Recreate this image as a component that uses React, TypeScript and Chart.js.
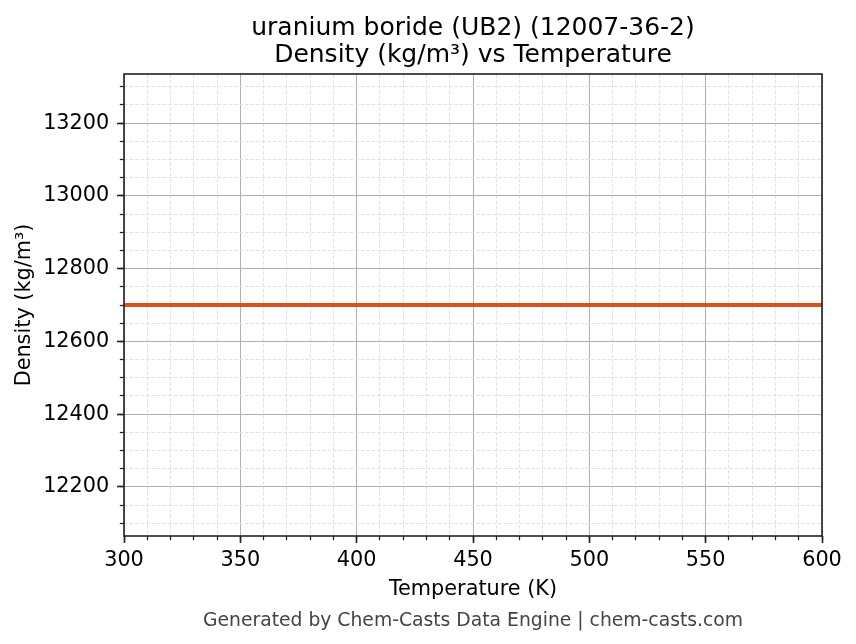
import { useEffect, useRef } from "react";
import { Chart, registerables } from "chart.js";

Chart.register(...registerables);

// data
const temperatures = [300, 350, 400, 450, 500, 550, 600];
const densities = [12700, 12700, 12700, 12700, 12700, 12700, 12700];

const titleLines = ["uranium boride (UB2) (12007-36-2)", "Density (kg/m³) vs Temperature"];
const xLabel = "Temperature (K)";
const yLabel = "Density (kg/m³)";
const footerText = "Generated by Chem-Casts Data Engine | chem-casts.com";

const xLimits = [300, 600];
const yLimits = [12065, 13335];
const xMajorStep = 50;
const xMinorStep = 10;
const yMajorStep = 200;
const yMinorStep = 50;

const FONT = "'DejaVu Sans', sans-serif";
const LINE_COLOR = "#d6521f";
const SPINE = "#222222";

// matplotlib-like box around the axes
const framePlugin = {
  id: "frame",
  afterDatasetsDraw(chart: any) {
    const { ctx, chartArea: a } = chart;
    ctx.save();
    ctx.strokeStyle = SPINE;
    ctx.lineWidth = 1.6;
    ctx.strokeRect(a.left, a.top, a.right - a.left, a.bottom - a.top);
    ctx.restore();
  },
};

export default function App() {
  const canvasRef = useRef<HTMLCanvasElement | null>(null);
  const chartRef = useRef<Chart | null>(null);

  useEffect(() => {
    document.body.style.margin = "0";
    const ctx = canvasRef.current?.getContext("2d");
    if (!ctx) return;

    const minorColor = (step: number) => (c: any) =>
      c.tick && Math.round(c.tick.value) % step === 0 ? "rgba(0,0,0,0)" : "#e2e2e2";

    chartRef.current = new Chart(ctx, {
      type: "line",
      data: {
        datasets: [
          {
            data: temperatures.map((t, i) => ({ x: t, y: densities[i] })),
            borderColor: LINE_COLOR,
            borderWidth: 4,
            pointRadius: 0,
            tension: 0,
            xAxisID: "x",
            yAxisID: "y",
          },
        ],
      },
      options: {
        responsive: false,
        animation: false,
        layout: { padding: { left: 0, right: 34, top: 0, bottom: 0 } },
        plugins: {
          legend: { display: false },
          tooltip: { enabled: false },
          title: {
            display: true,
            text: titleLines,
            fullSize: false,
            color: "#000",
            font: { family: FONT, size: 25, weight: "normal", lineHeight: 1.068 },
            padding: { top: 15.3, bottom: 5.3 },
          },
          subtitle: {
            display: true,
            position: "bottom",
            text: footerText,
            fullSize: false,
            color: "#444444",
            font: { family: FONT, size: 18.75, weight: "normal", lineHeight: 1.2 },
            padding: { top: 2, bottom: 11.25 },
          },
        },
        scales: {
          xMinor: {
            type: "linear",
            position: "bottom",
            weight: 0,
            z: -1,
            min: xLimits[0],
            max: xLimits[1],
            ticks: { display: false, stepSize: xMinorStep, autoSkip: false },
            grid: {
              color: minorColor(xMajorStep),
              lineWidth: 1,
              tickColor: SPINE,
              tickWidth: 1.25,
              tickLength: 4.2,
            },
            border: { display: false, dash: [3.8, 1.7] },
            afterFit: (s: any) => {
              s.height = 0;
            },
          },
          x: {
            type: "linear",
            position: "bottom",
            weight: 1,
            min: xLimits[0],
            max: xLimits[1],
            ticks: {
              stepSize: xMajorStep,
              autoSkip: false,
              maxRotation: 0,
              color: "#000",
              padding: 5,
              font: { family: FONT, size: 20.8 },
            },
            grid: {
              color: "#b0b0b0",
              lineWidth: 1,
              tickColor: SPINE,
              tickWidth: 1.6,
              tickLength: 7,
            },
            border: { display: false },
            title: {
              display: true,
              text: xLabel,
              color: "#000",
              font: { family: FONT, size: 20.8, lineHeight: 1.2 },
              padding: { top: 0, bottom: 6.5 },
            },
            afterFit: (s: any) => {
              s.height = 72.25;
            },
          },
          yMinor: {
            type: "linear",
            position: "left",
            weight: 0,
            z: -1,
            min: yLimits[0],
            max: yLimits[1],
            ticks: { display: false, stepSize: yMinorStep, autoSkip: false, includeBounds: false },
            grid: {
              color: minorColor(yMajorStep),
              lineWidth: 1,
              tickColor: SPINE,
              tickWidth: 1.25,
              tickLength: 4.2,
            },
            border: { display: false, dash: [3.8, 1.7] },
            afterFit: (s: any) => {
              s.width = 0;
            },
          },
          y: {
            type: "linear",
            position: "left",
            weight: 1,
            min: yLimits[0],
            max: yLimits[1],
            ticks: {
              stepSize: yMajorStep,
              autoSkip: false,
              includeBounds: false,
              color: "#000",
              padding: 7.7,
              font: { family: FONT, size: 20.8 },
              callback: (v: any) => String(v),
            },
            grid: {
              color: "#b0b0b0",
              lineWidth: 1,
              tickColor: SPINE,
              tickWidth: 1.6,
              tickLength: 7,
            },
            border: { display: false },
            title: {
              display: true,
              text: yLabel,
              color: "#000",
              font: { family: FONT, size: 20.8, lineHeight: 1.2 },
              padding: { top: 12, bottom: 0 },
            },
            afterFit: (s: any) => {
              s.width = 124;
            },
          },
        },
      } as any,
      plugins: [framePlugin],
    });

    return () => {
      if (chartRef.current) {
        chartRef.current.destroy();
        chartRef.current = null;
      }
    };
  }, []);

  return (
    <div style={{ width: 856, height: 644, background: "#fff" }}>
      <canvas ref={canvasRef} width={856} height={644} />
    </div>
  );
}
